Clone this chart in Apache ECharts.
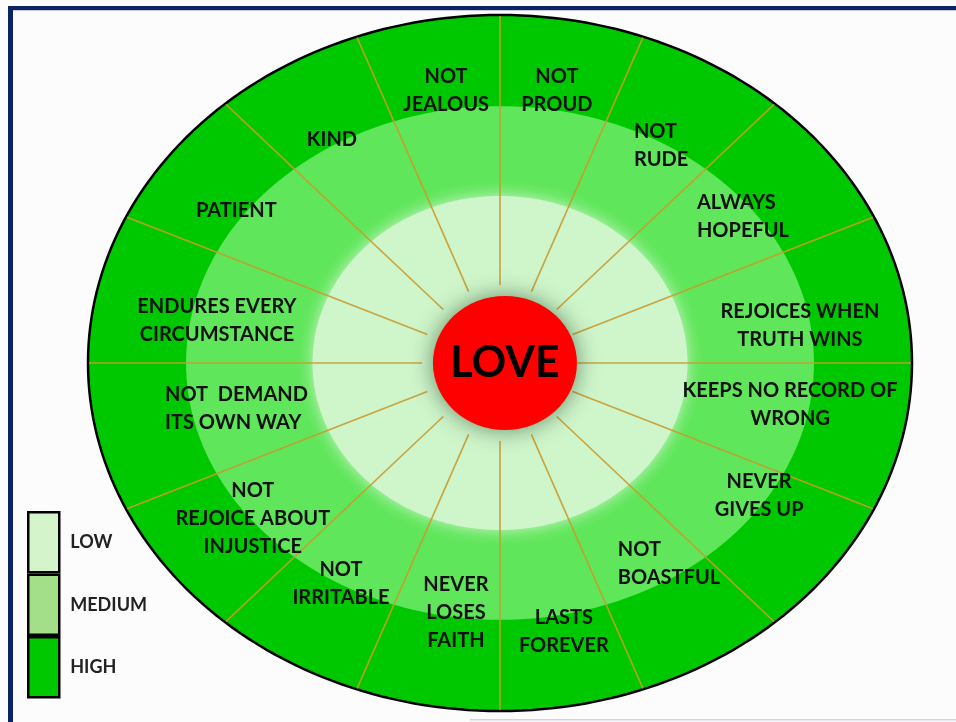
<!DOCTYPE html>
<html><head><meta charset="utf-8">
<script src="https://cdn.jsdelivr.net/npm/echarts@6/dist/echarts.min.js"></script>
<style>html,body{margin:0;padding:0;background:#fcfcfc}#c{width:956px;height:722px}</style>
</head><body><div id="c"></div>
<script>
// ---- data ----
const categories = [
  'REJOICES WHEN\nTRUTH WINS', 'ALWAYS\nHOPEFUL', 'NOT\nRUDE', 'NOT\nPROUD',
  'NOT\nJEALOUS', 'KIND', 'PATIENT', 'ENDURES EVERY\nCIRCUMSTANCE',
  'NOT  DEMAND\nITS OWN WAY', 'NOT\nREJOICE ABOUT\nINJUSTICE', 'NOT\nIRRITABLE', 'NEVER\nLOSES\nFAITH',
  'LASTS\nFOREVER', 'NOT\nBOASTFUL', 'NEVER\nGIVES UP', 'KEEPS NO RECORD OF\nWRONG'
];
const levels = ['LOW', 'MEDIUM', 'HIGH'];
const levelRadiusX = [0.455, 0.762, 1.0];
const levelRadiusY = [0.48, 0.738, 1.0];
const centerLabel = 'LOVE';
const centerValue = [0.012, 0];

// ---- layout (label anchors in axis units) ----
const labelAnchor = [
  [0.728, 0.108], [0.478, 0.420], [0.325, 0.624], [0.138, 0.784],
  [-0.131, 0.784], [-0.408, 0.641], [-0.640, 0.437], [-0.687, 0.121],
  [-0.813, -0.132], [-0.600, -0.448], [-0.386, -0.635], [-0.107, -0.716],
  [0.155, -0.773], [0.286, -0.575], [0.629, -0.382], [0.704, -0.118]
];
const leftAligned = [1, 2, 8, 13];

const ringColors = { LOW: '#cff5cb', MEDIUM: '#5fe65a', HIGH: '#00c800' };
const legendColors = { LOW: '#d4f5cc', MEDIUM: '#a3df88', HIGH: '#00c800' };

function ellipsePoints(api, rx, ry) {
  const pts = [];
  for (let i = 0; i <= 240; i++) {
    const a = i / 240 * 2 * Math.PI;
    pts.push(api.coord([rx * Math.cos(a), ry * Math.sin(a)]));
  }
  return pts;
}

const ringSeries = levels.slice().reverse().map(lvl => {
  const i = levels.indexOf(lvl);
  return {
    type: 'custom', name: lvl, silent: true,
    itemStyle: { color: ringColors[lvl] },
    data: [[levelRadiusX[i], levelRadiusY[i]]],
    renderItem: (params, api) => ({
      type: 'polygon',
      shape: { points: ellipsePoints(api, api.value(0), api.value(1)) },
      style: lvl === 'HIGH'
        ? { fill: ringColors[lvl], stroke: '#000', lineWidth: 2.5 }
        : lvl === 'LOW'
          ? { fill: ringColors[lvl], shadowBlur: 16, shadowColor: ringColors[lvl] }
          : { fill: ringColors[lvl] }
    })
  };
});

const spokeSeries = {
  type: 'custom', silent: true,
  data: categories.map(() => [0, 0]),
  renderItem: (params, api) => {
    const n = categories.length;
    const ang = params.dataIndex / n * 2 * Math.PI;
    const C = api.coord([0, 0]);
    const Rx = api.coord([1, 0])[0] - C[0];
    const Ry = C[1] - api.coord([0, 1])[1];
    let dx = Math.cos(ang) * 1.06, dy = Math.sin(ang);
    const L = Math.hypot(dx, dy); dx /= L; dy /= L;
    const t = 1 / Math.sqrt((dx / Rx) ** 2 + (dy / Ry) ** 2) - 1;
    const r0 = 78;
    return {
      type: 'line',
      shape: { x1: C[0] + dx * r0, y1: C[1] - dy * r0, x2: C[0] + dx * t, y2: C[1] - dy * t },
      style: { stroke: 'rgba(200,155,45,0.9)', lineWidth: 1.6 }
    };
  }
};

const centerSeries = {
  type: 'scatter', silent: true,
  data: [centerValue],
  symbol: 'circle', symbolSize: [144, 134],
  itemStyle: { color: '#ff0000', opacity: 1, shadowBlur: 22, shadowColor: 'rgba(0,40,0,0.5)' },
  label: {
    show: true, position: 'inside', formatter: centerLabel,
    fontFamily: 'Lato', fontWeight: 'bold', fontSize: 43, color: '#000', opacity: 1
  }
};

const labelSeries = {
  type: 'custom', silent: true,
  data: labelAnchor,
  renderItem: (params, api) => {
    const p = api.coord([api.value(0), api.value(1)]);
    const left = leftAligned.indexOf(params.dataIndex) >= 0;
    return {
      type: 'text', x: p[0], y: p[1],
      style: {
        text: categories[params.dataIndex],
        fill: '#111',
        fontFamily: 'Lato', fontWeight: 'bold', fontSize: 20,
        lineHeight: 28,
        align: left ? 'left' : 'center',
        verticalAlign: 'middle'
      }
    };
  }
};

const chart = echarts.init(document.getElementById('c'));
chart.setOption({
  backgroundColor: '#fcfcfc',
  animation: false,
  grid: { left: 88, right: 44, top: 15, bottom: 11 },
  xAxis: { type: 'value', min: -1, max: 1, show: false },
  yAxis: { type: 'value', min: -1, max: 1, show: false },
  legend: {
    orient: 'vertical', left: 27, top: 511, padding: 0,
    itemWidth: 31, itemHeight: 60, itemGap: 0, icon: 'rect',
    selectedMode: false,
    data: levels.map(l => ({ name: l, itemStyle: { color: legendColors[l], borderColor: '#000', borderWidth: 2.5 } })),
    textStyle: { fontFamily: 'Lato', fontWeight: 'bold', fontSize: 18, color: '#222', padding: [6, 0, 0, 6] }
  },
  graphic: [
    { type: 'rect', shape: { x: 8, y: 6, width: 948, height: 4 }, style: { fill: '#0c2366' }, z: 100 },
    { type: 'rect', shape: { x: 8, y: 6, width: 5, height: 716 }, style: { fill: '#0c2366' }, z: 100 },
    { type: 'rect', shape: { x: 13, y: 10, width: 943, height: 1 }, style: { fill: '#c5cbe0' }, z: 100 },
    { type: 'rect', shape: { x: 470, y: 719, width: 486, height: 1.5 }, style: { fill: '#d0d3e2' }, z: 100 }
  ],
  series: [...ringSeries, spokeSeries, centerSeries, labelSeries]
});
</script>
</body></html>
